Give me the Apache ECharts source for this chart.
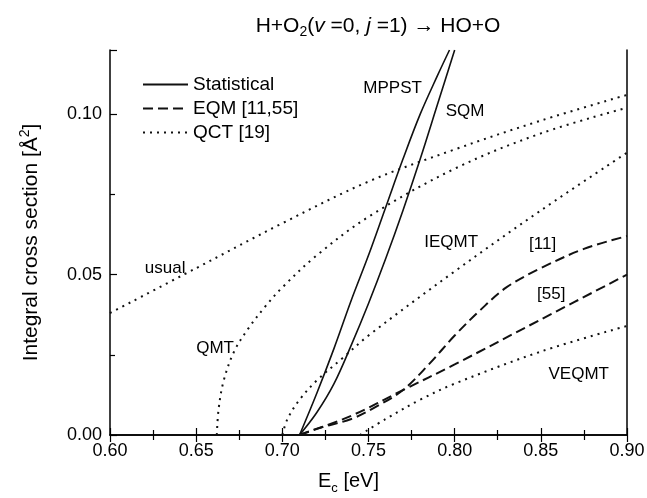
<!DOCTYPE html>
<html>
<head>
<meta charset="utf-8">
<script src="https://cdn.jsdelivr.net/npm/echarts@6/dist/echarts.min.js"></script>
<style>
  html, body { margin: 0; padding: 0; background: #fff; }
  #chart { width: 647px; height: 498px; }
</style>
</head>
<body>
<div id="chart"></div>
<script>
// tick labels
const xTicks = [0.60, 0.65, 0.70, 0.75, 0.80, 0.85, 0.90]
const yTicks = [0.00, 0.05, 0.10]

// Statistical (solid)
const mppst = [[0.71, 0], [0.72, 0.013], [0.73, 0.027], [0.74, 0.042], [0.75, 0.056], [0.76, 0.071], [0.77, 0.086], [0.78, 0.100], [0.79, 0.112], [0.797, 0.12]]
const sqm = [[0.71, 0], [0.72, 0.007], [0.73, 0.016], [0.74, 0.028], [0.75, 0.041], [0.76, 0.055], [0.77, 0.070], [0.78, 0.086], [0.79, 0.103], [0.80, 0.12]]

// EQM (dashed)
const eqm11 = [[0.71, 0], [0.72, 0.002], [0.74, 0.005], [0.755, 0.009], [0.77, 0.014], [0.785, 0.022], [0.80, 0.031], [0.815, 0.039], [0.83, 0.046], [0.85, 0.052], [0.875, 0.058], [0.90, 0.062]]
const eqm55 = [[0.71, 0], [0.74, 0.006], [0.77, 0.014], [0.80, 0.022], [0.85, 0.036], [0.90, 0.050]]

// QCT (dotted)
const usual = [[0.60, 0.038], [0.65, 0.052], [0.70, 0.066], [0.75, 0.079], [0.80, 0.089], [0.85, 0.098], [0.90, 0.106]]
const qmt = [[0.662, 0], [0.663, 0.008], [0.666, 0.017], [0.672, 0.026], [0.68, 0.033], [0.69, 0.040], [0.70, 0.046], [0.72, 0.056], [0.75, 0.068], [0.80, 0.083], [0.85, 0.094], [0.90, 0.102]]
const ieqmt = [[0.70, 0], [0.703, 0.005], [0.71, 0.011], [0.72, 0.017], [0.735, 0.024], [0.75, 0.031], [0.80, 0.051], [0.85, 0.070], [0.90, 0.088]]
const veqmt = [[0.745, 0], [0.76, 0.005], [0.78, 0.011], [0.80, 0.016], [0.85, 0.026], [0.90, 0.034]]

// curve labels
const notes = [
    ['MPPST', 0.764, 0.108],
    ['SQM', 0.806, 0.101],
    ['IEQMT', 0.798, 0.060],
    ['[11]', 0.851, 0.0595],
    ['[55]', 0.856, 0.044],
    ['VEQMT', 0.872, 0.019],
    ['usual', 0.632, 0.052],
    ['QMT', 0.661, 0.027]
]

const font = 'Liberation Sans, Arial, sans-serif'
const ink = '#000'
const chart = echarts.init(document.getElementById('chart'))

const line = (name, data, type) => ({
    name: name,
    type: 'line',
    data: data,
    smooth: 0.35,
    symbol: 'none',
    silent: true,
    lineStyle: { color: '#111', width: type === 'solid' ? 1.6 : 2, type: type === 'dotted' ? [2, 5] : type === 'dashed' ? [10, 5] : 'solid' }
})

const tickStyle = { color: ink, width: 1.2 }

chart.setOption({
    animation: false,
    title: {
        text: 'H+O{sub|2}({i|v} =0, {i|j} =1) → HO+O',
        left: 373,
        textAlign: 'center',
        top: 8,
        textStyle: {
            fontFamily: font, fontSize: 21, fontWeight: 'normal', color: ink,
            rich: {
                sub: { fontFamily: font, fontSize: 14, color: ink, padding: [12, 0, 0, 0] },
                i: { fontFamily: font, fontSize: 21, fontStyle: 'italic', color: ink }
            }
        }
    },
    grid: { left: 110, right: 20, top: 50, bottom: 63, outerBoundsMode: 'none', containLabel: false },
    legend: {
        orient: 'vertical',
        left: 137,
        top: 70,
        itemWidth: 45,
        itemHeight: 14,
        itemGap: 5,
        itemStyle: { opacity: 0 },
        textStyle: { fontFamily: font, fontSize: 19, color: ink },
        data: ['Statistical', 'EQM [11,55]', 'QCT [19]']
    },
    xAxis: [{
        type: 'value',
        min: 0.6, max: 0.9, interval: 0.05,
        name: 'E{sub|c} [eV]',
        nameLocation: 'middle',
        nameGap: 33,
        nameTextStyle: {
            fontFamily: font, fontSize: 20, color: ink, padding: [0, 40, 0, 0],
            rich: { sub: { fontFamily: font, fontSize: 13, color: ink, padding: [14, 0, 0, 0] } }
        },
        axisLine: { lineStyle: { color: ink, width: 1.5 } },
        axisTick: { inside: true, length: 7, lineStyle: tickStyle },
        minorTick: { show: true, splitNumber: 2, length: 5, lineStyle: tickStyle },
        splitLine: { show: false },
        axisLabel: { fontFamily: font, fontSize: 18, color: ink, margin: 7, formatter: v => v.toFixed(2) }
    }, {
        type: 'value',
        position: 'top',
        min: 0.6, max: 0.9, interval: 0.05,
        axisLine: { lineStyle: { color: ink, width: 1.5 } },
        axisTick: { inside: true, length: 7, lineStyle: tickStyle },
        minorTick: { show: true, splitNumber: 2, length: 5, lineStyle: tickStyle },
        axisLabel: { show: false },
        splitLine: { show: false }
    }],
    yAxis: [{
        type: 'value',
        min: 0, max: 0.12, interval: 0.05,
        name: 'Integral cross section [Å{sup|2}]',
        nameLocation: 'middle',
        nameGap: 66,
        nameTextStyle: {
            fontFamily: font, fontSize: 21, color: ink,
            rich: { sup: { fontFamily: font, fontSize: 14, color: ink, padding: [0, 0, 12, 0] } }
        },
        axisLine: { show: true, lineStyle: { color: ink, width: 1.5 } },
        axisTick: { inside: true, length: 7, lineStyle: tickStyle },
        minorTick: { show: true, splitNumber: 2, length: 5, lineStyle: tickStyle },
        splitLine: { show: false },
        axisLabel: {
            fontFamily: font, fontSize: 18, color: ink, margin: 8, showMaxLabel: false,
            formatter: v => yTicks.some(t => Math.abs(t - v) < 1e-9) ? v.toFixed(2) : ''
        }
    }, {
        type: 'value',
        position: 'right',
        min: 0, max: 0.12,
        axisLine: { show: true, lineStyle: { color: ink, width: 1.5 } },
        axisTick: { show: false },
        axisLabel: { show: false },
        splitLine: { show: false }
    }],
    series: [
        line('Statistical', mppst, 'solid'),
        line('Statistical', sqm, 'solid'),
        line('EQM [11,55]', eqm11, 'dashed'),
        line('EQM [11,55]', eqm55, 'dashed'),
        line('QCT [19]', usual, 'dotted'),
        line('QCT [19]', qmt, 'dotted'),
        line('QCT [19]', ieqmt, 'dotted'),
        line('QCT [19]', veqmt, 'dotted'),
        {
            name: 'notes',
            type: 'scatter',
            symbolSize: 0,
            silent: true,
            itemStyle: { opacity: 1 },
            data: notes.map(n => ({ value: [n[1], n[2]], name: n[0] })),
            label: {
                show: true,
                position: 'inside',
                formatter: p => p.name,
                fontFamily: font,
                fontSize: 17,
                color: ink,
                textBorderWidth: 0
            }
        }
    ]
})
</script>
</body>
</html>
